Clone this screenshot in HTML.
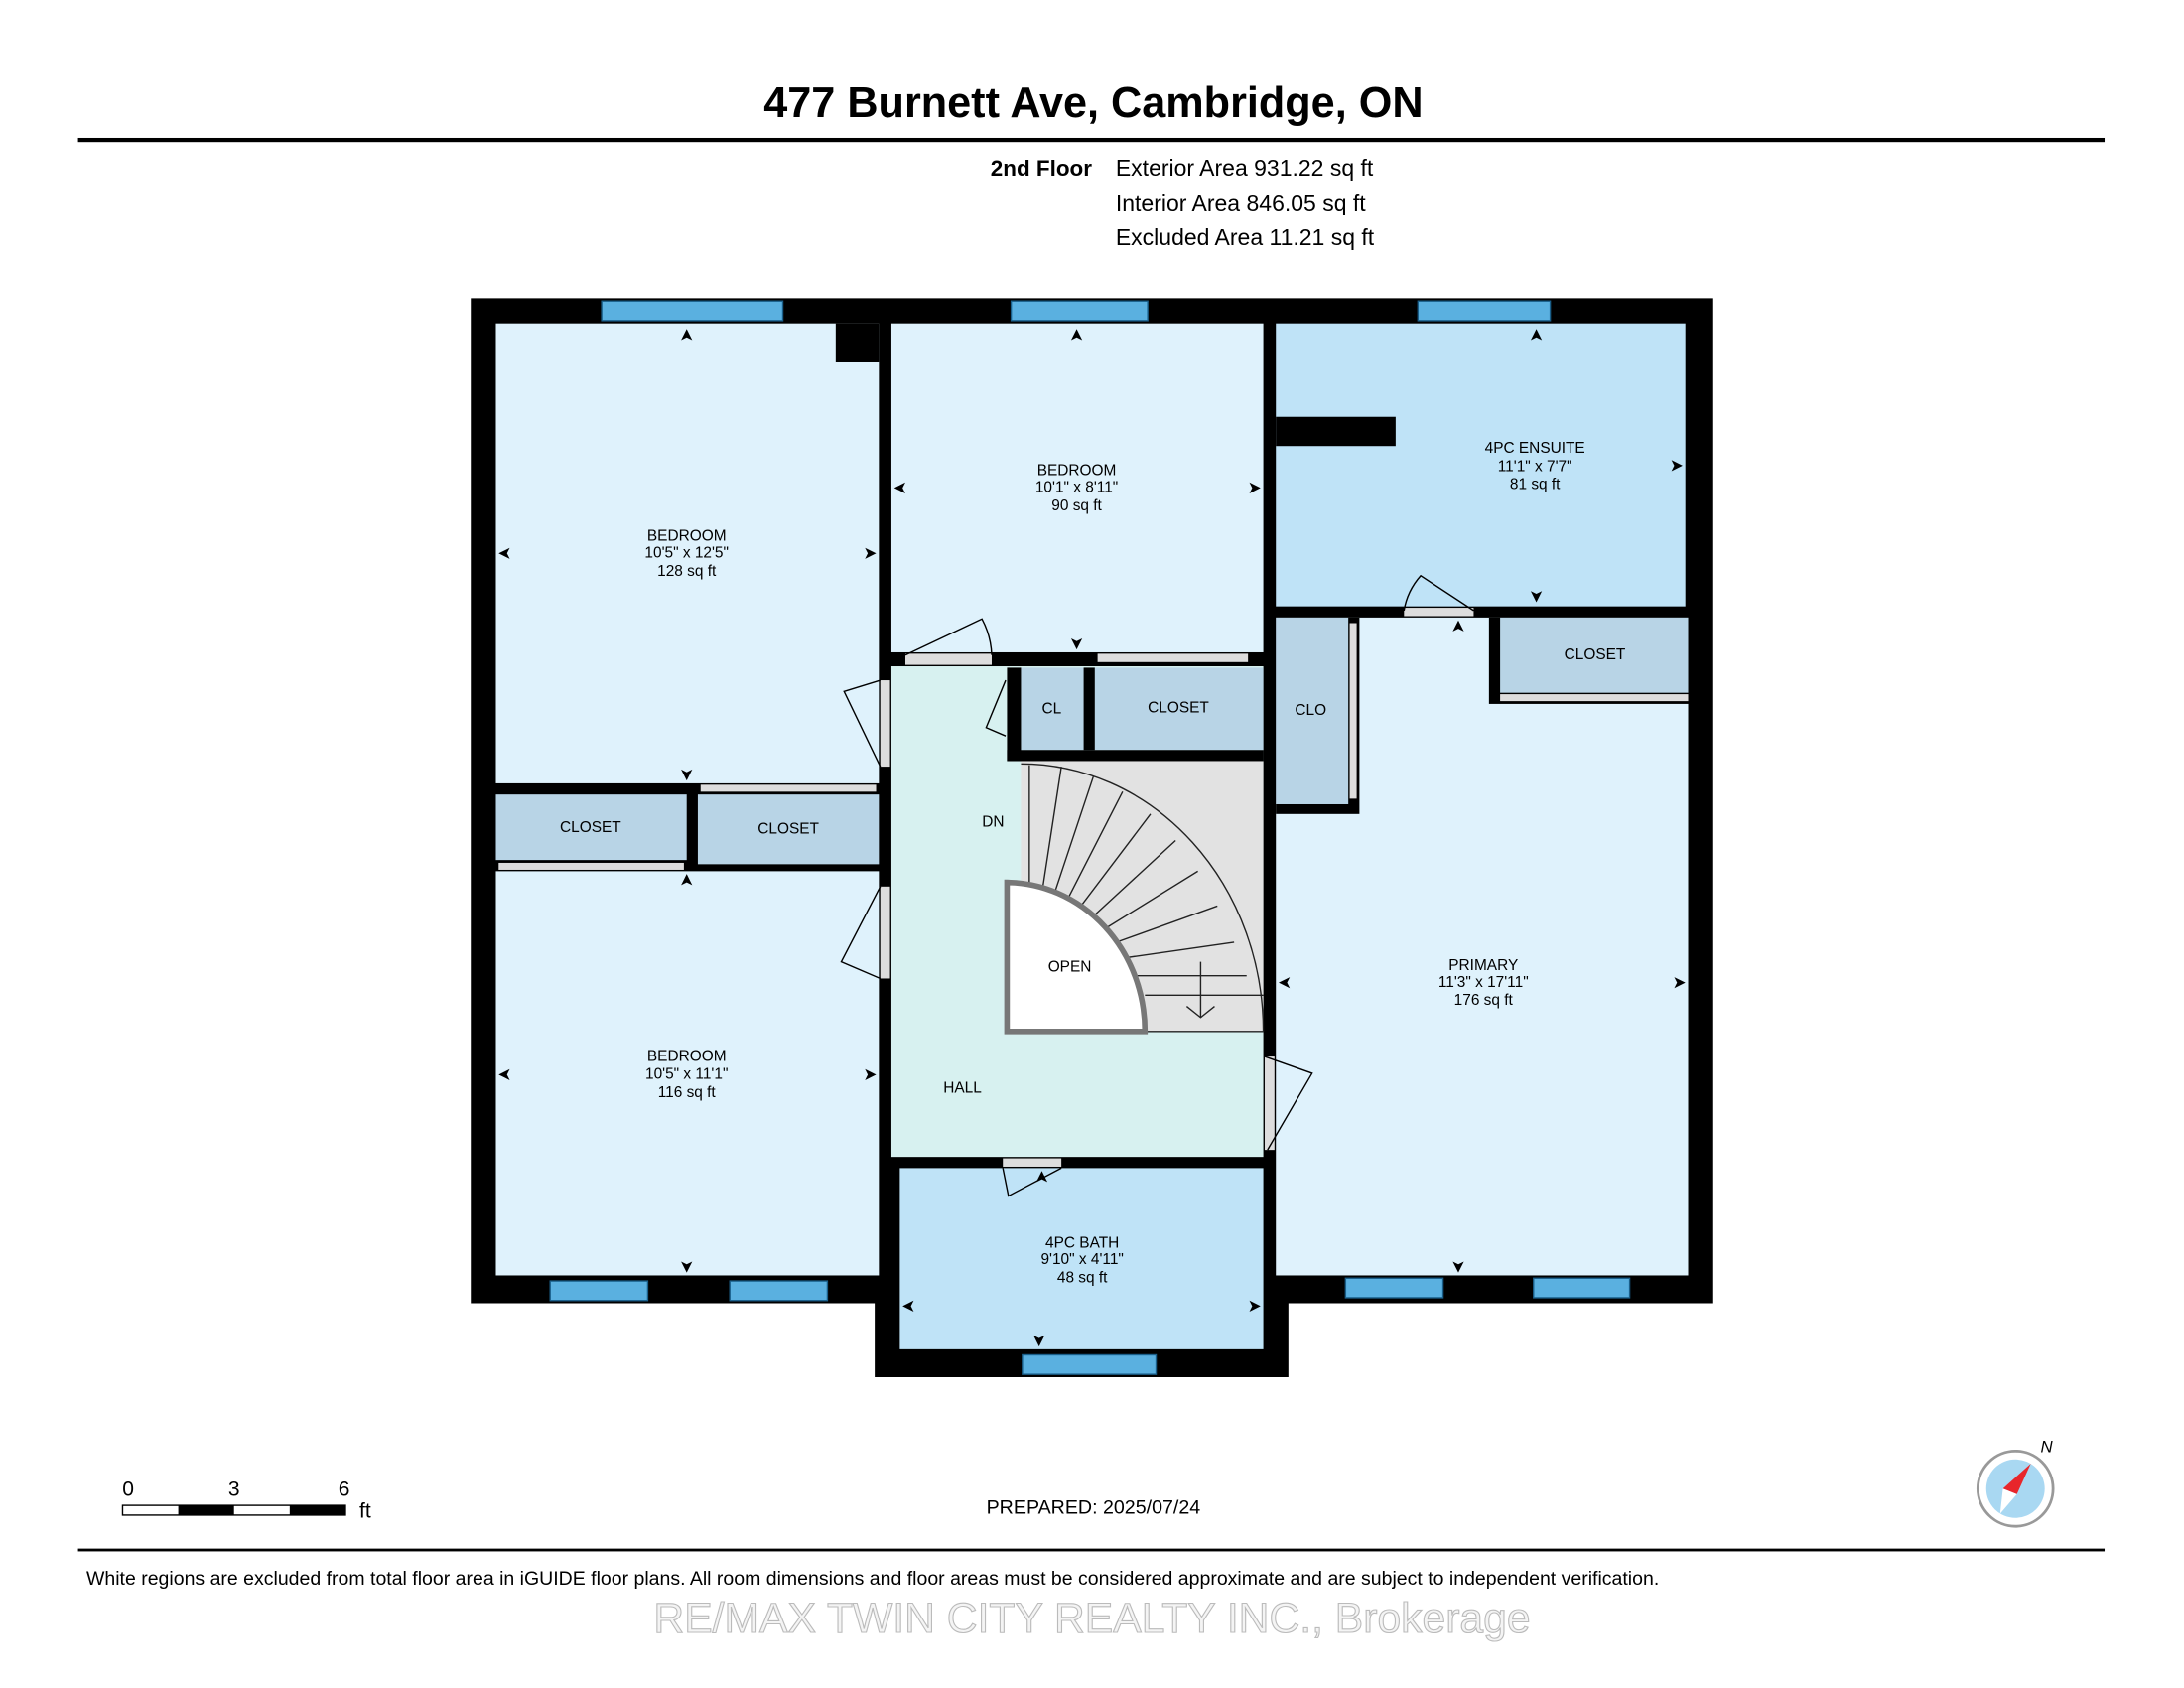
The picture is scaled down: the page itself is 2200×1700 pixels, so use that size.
<!DOCTYPE html>
<html><head><meta charset="utf-8"><style>
html,body{margin:0;padding:0;background:#fff;}
svg{display:block}
text{font-family:"Liberation Sans",sans-serif;}
</style></head><body>
<svg width="2200" height="1700" viewBox="0 0 1568 1211" preserveAspectRatio="none" xmlns="http://www.w3.org/2000/svg">
<rect width="1568" height="1211" fill="#fff"/>
<text x="785" y="84" font-size="30.8" font-weight="bold" text-anchor="middle">477 Burnett Ave, Cambridge, ON</text>
<rect x="56" y="99" width="1455" height="3" fill="#000"/>
<text x="784" y="126" font-size="16" font-weight="bold" text-anchor="end">2nd Floor</text>
<text x="801" y="126" font-size="16.4">Exterior Area 931.22 sq ft</text>
<text x="801" y="151" font-size="16.4">Interior Area 846.05 sq ft</text>
<text x="801" y="176" font-size="16.4">Excluded Area 11.21 sq ft</text>

<polygon points="338,214 1230,214 1230,935 925,935 925,988 628,988 628,935 338,935" fill="#000"/>
<g font-size="11" text-anchor="middle">
<rect x="356" y="232" width="275" height="330" fill="#dff2fc"/>
<rect x="600" y="232" width="31" height="28" fill="#000"/>
<rect x="640" y="232" width="267" height="236" fill="#dff2fc"/>
<rect x="916" y="232" width="294" height="203" fill="#bfe3f7"/>
<rect x="916" y="299" width="86" height="21" fill="#000"/>
<rect x="916" y="443" width="296" height="472" fill="#dff2fc"/>
<rect x="1069" y="443" width="143" height="62" fill="#000"/>
<rect x="1077" y="443" width="135" height="54" fill="#b8d4e6"/>
<rect x="1077" y="498" width="135" height="5" fill="#ddd"/>
<rect x="916" y="443" width="60" height="141" fill="#000"/>
<rect x="916" y="443" width="52" height="134" fill="#b8d4e6"/>
<rect x="969" y="447" width="5" height="126" fill="#ddd"/>
<rect x="356" y="570" width="137" height="47" fill="#b8d4e6"/>
<rect x="501" y="570" width="130" height="50" fill="#b8d4e6"/>
<rect x="358" y="619" width="133" height="5" fill="#ddd"/>
<rect x="503" y="563" width="126" height="5" fill="#ddd"/>
<rect x="356" y="625" width="275" height="290" fill="#dff2fc"/>
<rect x="640" y="478" width="267" height="352" fill="#d7f1f0"/>
<rect x="733" y="479" width="45" height="59" fill="#b8d4e6"/>
<rect x="786" y="479" width="121" height="59" fill="#b8d4e6"/>
<rect x="723" y="538" width="184" height="8" fill="#000"/>
<rect x="723" y="479" width="10" height="67" fill="#000"/>
<rect x="778" y="479" width="8" height="59" fill="#000"/>
<rect x="733" y="546" width="174" height="194" fill="#e2e2e2"/>
<rect x="646" y="838" width="261" height="130" fill="#bfe3f7"/>
<!-- door gaps -->
<g fill="#ddd">
<rect x="650" y="469" width="62" height="8"/>
<rect x="632" y="488" width="7" height="62"/>
<rect x="632" y="636" width="7" height="66"/>
<rect x="908" y="758" width="7" height="67"/>
<rect x="1008" y="436" width="50" height="6"/>
<rect x="720" y="831" width="42" height="6"/>
<rect x="788" y="469" width="108" height="6"/>
</g>
<g stroke="#222" stroke-width="1" fill="none">
<path d="M733,548 A174,192 0 0 1 907,740"/>
<path d="M822,740 L907,740 M822,714 L907,714"/>
<line x1="739" y1="640" x2="739" y2="549"/><line x1="748" y1="641" x2="762" y2="550"/>
<line x1="756" y1="644" x2="785" y2="557"/><line x1="765" y1="648" x2="806" y2="568"/>
<line x1="773" y1="654" x2="826" y2="584"/><line x1="781" y1="661" x2="844" y2="603"/>
<line x1="789" y1="669" x2="860" y2="625"/><line x1="796" y1="678" x2="874" y2="650"/>
<line x1="802" y1="688" x2="886" y2="676"/><line x1="808" y1="700" x2="895" y2="700"/>
<line x1="862" y1="690" x2="862" y2="730"/><path d="M852,722 L862,730 L872,722"/>
</g>
<path d="M723,633 A100,107 0 0 1 822,740 L723,740 Z" fill="#fff" stroke="#777" stroke-width="4"/>
<g fill="#5ab0e0" stroke="#1a5f8a" stroke-width="1">
<rect x="432" y="216" width="130" height="14"/><rect x="726" y="216" width="98" height="14"/>
<rect x="1018" y="216" width="95" height="14"/>
<rect x="395" y="919" width="70" height="14"/><rect x="524" y="919" width="70" height="14"/>
<rect x="966" y="917" width="70" height="14"/><rect x="1101" y="917" width="69" height="14"/>
<rect x="734" y="972" width="96" height="14"/>
</g>
<g fill="none" stroke="#000" stroke-width="1">
<path d="M650,470 L705,444 A60,60 0 0 1 712,470"/>
<path d="M632,488 L606,496 L632,550"/>
<path d="M632,636 L604,690 L632,702"/>
<path d="M908,758 L942,770 L910,825"/>
<path d="M1008,438 A50,50 0 0 1 1020,413 L1058,438"/>
<path d="M722,488 L708,522 L722,528"/>
<path d="M720,838 L724,858 L762,838"/>
</g>
<text x="493" y="388">BEDROOM</text><text x="493" y="400">10'5" x 12'5"</text><text x="493" y="413">128 sq ft</text>
<text x="773" y="341">BEDROOM</text><text x="773" y="353">10'1" x 8'11"</text><text x="773" y="366">90 sq ft</text>
<text x="1102" y="325">4PC ENSUITE</text><text x="1102" y="338">11'1" x 7'7"</text><text x="1102" y="351">81 sq ft</text>
<text x="1065" y="696">PRIMARY</text><text x="1065" y="708">11'3" x 17'11"</text><text x="1065" y="721">176 sq ft</text>
<text x="493" y="761">BEDROOM</text><text x="493" y="774">10'5" x 11'1"</text><text x="493" y="787">116 sq ft</text>
<text x="777" y="895">4PC BATH</text><text x="777" y="907">9'10" x 4'11"</text><text x="777" y="920">48 sq ft</text>
<text x="1145" y="473">CLOSET</text><text x="941" y="513">CLO</text>
<text x="424" y="597">CLOSET</text><text x="566" y="598">CLOSET</text>
<text x="755" y="512">CL</text><text x="846" y="511">CLOSET</text>
<text x="713" y="593">DN</text><text x="768" y="697">OPEN</text><text x="691" y="784">HALL</text>
</g>
<g fill="#000">
<path d="M493,236 l-4,8 l4,-2 l4,2z"/><path d="M493,560 l-4,-8 l4,2 l4,-2z"/>
<path d="M358,397 l8,-4 l-2,4 l2,4z"/><path d="M629,397 l-8,-4 l2,4 l-2,4z"/>
<path d="M773,236 l-4,8 l4,-2 l4,2z"/><path d="M773,466 l-4,-8 l4,2 l4,-2z"/>
<path d="M642,350 l8,-4 l-2,4 l2,4z"/><path d="M905,350 l-8,-4 l2,4 l-2,4z"/>
<path d="M1103,236 l-4,8 l4,-2 l4,2z"/><path d="M1103,432 l-4,-8 l4,2 l4,-2z"/>
<path d="M1208,334 l-8,-4 l2,4 l-2,4z"/>
<path d="M1047,445 l-4,8 l4,-2 l4,2z"/><path d="M1047,913 l-4,-8 l4,2 l4,-2z"/>
<path d="M918,705 l8,-4 l-2,4 l2,4z"/><path d="M1210,705 l-8,-4 l2,4 l-2,4z"/>
<path d="M493,627 l-4,8 l4,-2 l4,2z"/><path d="M493,913 l-4,-8 l4,2 l4,-2z"/>
<path d="M358,771 l8,-4 l-2,4 l2,4z"/><path d="M629,771 l-8,-4 l2,4 l-2,4z"/>
<path d="M748,840 l-4,8 l4,-2 l4,2z"/><path d="M746,966 l-4,-8 l4,2 l4,-2z"/>
<path d="M648,937 l8,-4 l-2,4 l2,4z"/><path d="M905,937 l-8,-4 l2,4 l-2,4z"/>
</g>
<text x="92" y="1073" font-size="15" text-anchor="middle">0</text>
<text x="168" y="1073" font-size="15" text-anchor="middle">3</text>
<text x="247" y="1073" font-size="15" text-anchor="middle">6</text>
<text x="258" y="1089" font-size="15">ft</text>
<rect x="88" y="1080" width="160" height="7" fill="#fff" stroke="#000"/>
<rect x="128" y="1080" width="40" height="7" fill="#000"/><rect x="208" y="1080" width="40" height="7" fill="#000"/>
<text x="785" y="1086" font-size="14" text-anchor="middle">PREPARED: 2025/07/24</text>
<circle cx="1447" cy="1068" r="27" fill="#fff" stroke="#999" stroke-width="2"/>
<circle cx="1447" cy="1068" r="21" fill="#a9d8f2"/>
<path d="M1458,1050 L1438,1068 L1448,1072Z" fill="#e8262b"/>
<path d="M1438,1068 L1448,1072 L1436,1086Z" fill="#fff"/>
<text x="1465" y="1042" font-size="12" font-style="italic">N</text>
<rect x="56" y="1111" width="1455" height="2" fill="#000"/>
<text x="62" y="1137" font-size="13.9">White regions are excluded from total floor area in iGUIDE floor plans. All room dimensions and floor areas must be considered approximate and are subject to independent verification.</text>
<text x="784" y="1171" font-size="30.4" text-anchor="middle" fill="#f4f4f4" stroke="#bbb" stroke-width="0.8">RE/MAX TWIN CITY REALTY INC., Brokerage</text>
</svg>
</body></html>
